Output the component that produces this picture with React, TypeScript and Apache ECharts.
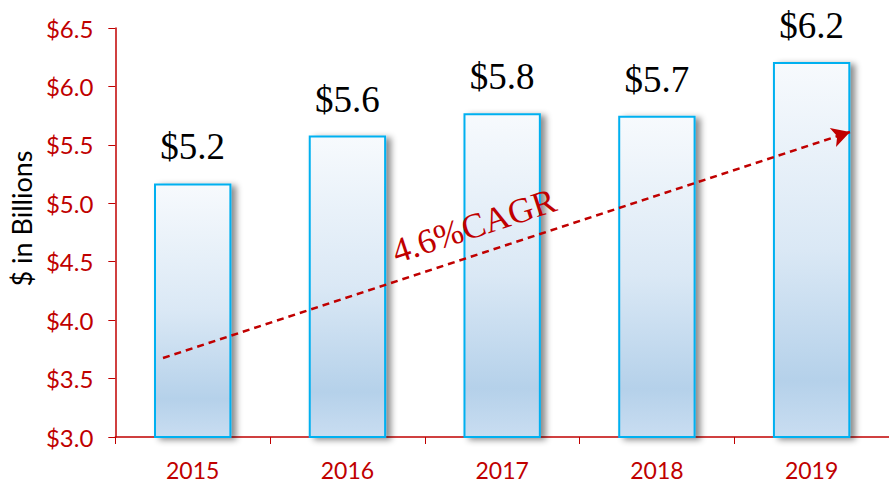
import React, { useEffect, useRef } from "react";
import * as echarts from "echarts";

const categories = ["2015", "2016", "2017", "2018", "2019"];
const values = [5.17, 5.58, 5.77, 5.75, 6.21];
const valueLabels = ["$5.2", "$5.6", "$5.8", "$5.7", "$6.2"];
const yTicks = { min: 3.0, max: 6.5, interval: 0.5 };
const cagrText = "4.6%CAGR";

const RED = "#c00000";

export default function App() {
  const ref = useRef<HTMLDivElement>(null);
  useEffect(() => {
    if (!ref.current) return;
    const chart = echarts.init(ref.current, undefined, { renderer: "svg" });
    chart.setOption({
      animation: false,
      backgroundColor: "#ffffff",
      grid: { left: 115, right: 0, top: 28, bottom: 46, containLabel: false },
      xAxis: {
        type: "category",
        data: categories,
        axisLine: { lineStyle: { color: RED, width: 1.5 } },
        axisTick: { show: true, length: 7, lineStyle: { color: RED } },
        axisLabel: { color: RED, fontFamily: "Lato", fontSize: 23, margin: 21 },
      },
      yAxis: {
        type: "value",
        min: yTicks.min,
        max: yTicks.max,
        interval: yTicks.interval,
        name: "$ in Billions",
        nameLocation: "middle",
        nameGap: 76,
        nameTextStyle: {
          color: "#000",
          fontFamily: "Lato",
          fontSize: 27,
          padding: [0, 0, 0, 28],
        },
        splitLine: { show: false },
        axisLine: { show: true, lineStyle: { color: RED, width: 1.5 } },
        axisTick: { show: true, length: 7, lineStyle: { color: RED } },
        axisLabel: {
          color: RED,
          fontFamily: "Lato",
          fontSize: 24,
          margin: 22,
          formatter: (v: number) => "$" + v.toFixed(1),
        },
      },
      series: [
        {
          type: "bar",
          data: values,
          barWidth: "50%",
          itemStyle: {
            color: new echarts.graphic.LinearGradient(0, 0, 0, 1, [
              { offset: 0, color: "#f7fafd" },
              { offset: 0.5, color: "#dae8f5" },
              { offset: 0.85, color: "#b5d1ea" },
              { offset: 1, color: "#c9ddf1" },
            ]),
            borderColor: "#00b0f0",
            borderWidth: 2,
            shadowColor: "rgba(0,0,0,0.45)",
            shadowBlur: 6,
            shadowOffsetX: 5,
            shadowOffsetY: 2,
          },
          label: {
            show: true,
            position: "top",
            distance: 18,
            color: "#000",
            fontFamily: "Liberation Serif",
            fontSize: 37,
            formatter: (p: any) => valueLabels[p.dataIndex],
          },
          markLine: {
            silent: true,
            symbol: ["none", "arrow"],
            symbolSize: [15, 18],
            label: { show: false },
            lineStyle: { color: RED, width: 2.5, type: [7, 5] },
            data: [[{ x: 163, y: 358 }, { x: 850, y: 132 }]],
          },
        },
      ],
      graphic: [
        {
          type: "text",
          x: 474,
          y: 226,
          z: 100,
          rotation: 0.318,
          style: {
            text: cagrText,
            fill: RED,
            fontFamily: "Liberation Serif",
            fontSize: 35,
            align: "center",
            verticalAlign: "middle",
          },
        },
      ],
    });
    return () => chart.dispose();
  }, []);
  return (
    <div
      ref={ref}
      style={{ position: "fixed", left: 0, top: 0, width: 889, height: 483 }}
    />
  );
}
